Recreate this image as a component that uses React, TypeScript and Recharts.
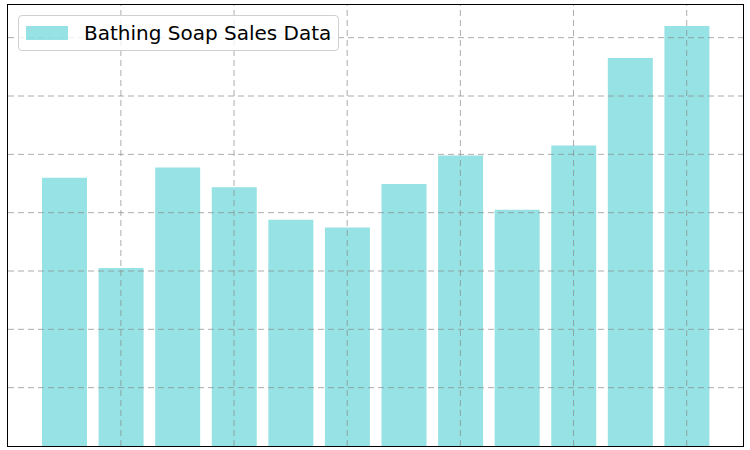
import { BarChart, Bar, XAxis, YAxis, ReferenceLine } from 'recharts';

const months = ['1', '2', '3', '4', '5', '6', '7', '8', '9', '10', '11', '12'];
const soapSales = [9200, 6100, 9550, 8870, 7760, 7490, 8980, 9960, 8100, 10300, 13300, 14400];
const xTicks = ['2', '4', '6', '8', '10', '12'];
const yTicks = [2000, 4000, 6000, 8000, 10000, 12000, 14000];

const data = months.map((m, i) => ({ month: m, sales: soapSales[i] }));

const BAR = '#2fc5cb';
const GRID = '#8a8a8a';

function LegendBox() {
  return (
    <div
      style={{
        position: 'absolute',
        left: 18,
        top: 15,
        display: 'flex',
        alignItems: 'center',
        border: '1px solid #d0d0d0',
        borderRadius: 4,
        background: 'rgba(255,255,255,0.8)',
        padding: '5px 7px',
        fontFamily: 'DejaVu Sans',
        fontSize: 20,
        zIndex: 2,
      }}
    >
      <span style={{ width: 42, height: 14, background: BAR, opacity: 0.5, marginRight: 16 }} />
      Bathing Soap Sales Data
    </div>
  );
}

export default function App() {
  return (
    <div style={{ position: 'absolute', left: 0, top: 0, width: 750, height: 450 }}>
      <BarChart width={750} height={450} data={data} margin={{ top: 5, right: 7, bottom: 4, left: 8 }}>
        <XAxis dataKey="month" hide padding={{ left: 28, right: 28 }} />
        <YAxis domain={[0, 15120]} hide />
        <Bar dataKey="sales" fill={BAR} fillOpacity={0.5} barSize={45} isAnimationActive={false} />
        {yTicks.map((v) => (
          <ReferenceLine key={'y' + v} y={v} stroke={GRID} strokeOpacity={0.7} strokeDasharray="6 4" />
        ))}
        {xTicks.map((v) => (
          <ReferenceLine key={'x' + v} x={v} stroke={GRID} strokeOpacity={0.7} strokeDasharray="6 4" />
        ))}
      </BarChart>
      <div
        style={{
          position: 'absolute',
          left: 7,
          top: 4,
          width: 735,
          height: 441,
          border: '1.5px solid #000',
          pointerEvents: 'none',
        }}
      />
      <LegendBox />
    </div>
  );
}
